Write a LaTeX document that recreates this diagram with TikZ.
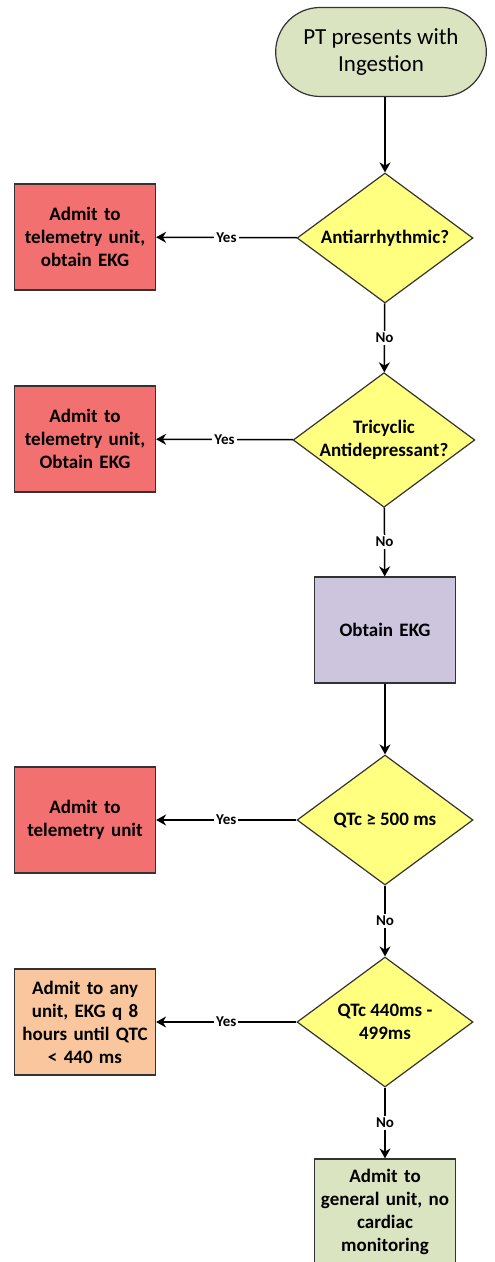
\documentclass[tikz,border=0pt]{standalone}
\usepackage{fontspec}
\setmainfont{Carlito}
\usepackage{xcolor}
\usepackage{tikz}
\usetikzlibrary{positioning,shapes,arrows.meta}

\definecolor{startgreen}{RGB}{218,228,192}
\definecolor{alertred}{RGB}{242,112,112}
\definecolor{askyellow}{RGB}{255,255,128}
\definecolor{ekgpurple}{RGB}{205,196,222}
\definecolor{warnpeach}{RGB}{250,198,158}

\tikzset{
  admit box/.style={draw=black!80, line width=0.6pt, minimum width=70.5pt, minimum height=53pt,
    text width=66pt, align=center, inner sep=0pt, font=\fontsize{9.5}{11.5}\selectfont\bfseries},
  decision/.style={diamond, draw=black!80, line width=0.6pt, fill=askyellow, aspect=1.35,
    minimum width=88pt, minimum height=65pt, inner sep=0pt, align=center,
    font=\fontsize{9.5}{11.5}\selectfont\bfseries},
  answer/.style={fill=white, inner sep=1pt, font=\fontsize{7.5}{8.5}\selectfont\bfseries}
}

\begin{document}
\begin{tikzpicture}[x=0.5pt, y=-0.5pt, >={Stealth[length=5pt,width=5.5pt]}, line width=0.75pt]

\useasboundingbox (0,0) rectangle (494,1262);

\node (start) [rounded rectangle, draw=black!80, line width=0.6pt, fill=startgreen, minimum width=112pt,
  minimum height=44.5pt, align=center, font=\fontsize{11.5}{13.5}\selectfont] at (381,52) {PT presents with\\Ingestion};

\node (anti) [decision] at (385,238) {Antiarrhythmic?};
\node (admit-1) [admit box, fill=alertred] at (85,237) {Admit to\\telemetry unit,\\obtain EKG};

\node (tca) [decision] at (384,440) {Tricyclic\\Antidepressant?};
\node (admit-2) [admit box, fill=alertred] at (85,439) {Admit to\\telemetry unit,\\Obtain EKG};

\node (ekg) [admit box, fill=ekgpurple] at (385,630) {Obtain EKG};

\node (qtc-high) [decision] at (385,820) {QTc ≥ 500 ms};
\node (admit-3) [admit box, fill=alertred] at (85,820) {Admit to\\telemetry unit};

\node (qtc-mid) [decision] at (385,1022) {QTc 440ms -\\499ms};
\node (admit-4) [admit box, fill=warnpeach] at (85,1022) {Admit to any\\unit, EKG q 8\\hours until QTC\\< 440 ms};

\node (general) [admit box, fill=startgreen] at (385,1212) {Admit to\\general unit, no\\cardiac\\monitoring};

\draw [->] (start.south -| anti.north) -- (anti);
\draw [->] (ekg) -- (qtc-high);

\foreach \d/\b in {anti/admit-1, tca/admit-2, qtc-high/admit-3, qtc-mid/admit-4}
  \draw [->] (\d) -- (\b) node [answer, midway] {Yes};

\foreach \a/\b in {anti/tca, tca/ekg, qtc-high/qtc-mid, qtc-mid/general}
  \draw [->] (\a) -- (\b) node [answer, midway] {No};

\end{tikzpicture}
\end{document}
